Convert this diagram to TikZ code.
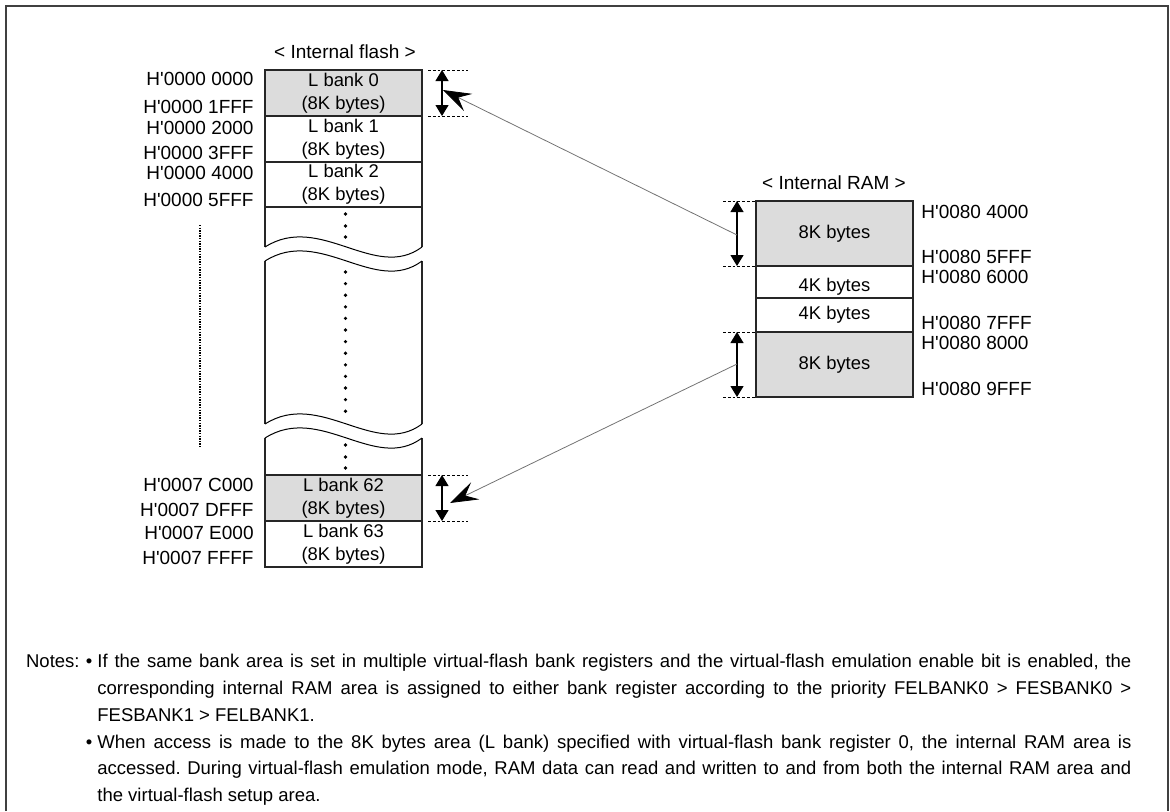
\documentclass[tikz,border=0pt]{standalone}
\usepackage{fontspec}
\setmainfont{Liberation Sans}
\usetikzlibrary{arrows.meta}
\definecolor{bankgray}{RGB}{220,220,220}
\newcommand{\haddr}[1]{H\textquotesingle#1}

\tikzset{
  bank/.style={draw=black!85, line width=0.6pt, minimum width=78.5pt, inner sep=0pt,
    align=center, font=\fontsize{9.2}{11.5}\selectfont},
  addr/.style={inner sep=0pt, font=\fontsize{9.5}{11}\selectfont},
  dim/.style={line width=0.6pt, {Triangle[length=5.5pt,width=6.5pt]}-{Triangle[length=5.5pt,width=6.5pt]}},
  guide/.style={line width=0.4pt, dash pattern=on 1.4pt off 1pt},
  colside/.style={draw=black!85, line width=0.6pt},
  link/.style={draw=black!55, line width=0.4pt, -{Stealth[length=14pt,width=9.5pt,inset=5.5pt,black]}},
  notetext/.style={inner sep=0pt, text width=517pt, align=justify,
    font=\fontsize{9.25}{13.4}\selectfont\frenchspacing},
}

\begin{document}
\begin{tikzpicture}[x=0.5pt,y=-0.5pt]
  \useasboundingbox (0,0) rectangle (1170,811);
  \draw[black!75, line width=0.8pt] (6,811) -- (6,6) -- (1168,6) -- (1168,811);

  % internal flash
  \node[addr] (flashtitle) at (345,52) {< Internal flash >};
  \node[bank, fill=bankgray, minimum height=23pt] (lb0) at (343.5,93) {L bank 0\\(8K bytes)};
  \node[bank, minimum height=23pt] (lb1) at (343.5,139) {L bank 1\\(8K bytes)};
  \node[bank, minimum height=22.5pt] (lb2) at (343.5,184.5) {L bank 2\\(8K bytes)};
  \node[bank, fill=bankgray, minimum height=23pt] (lb62) at (343.5,498) {L bank 62\\(8K bytes)};
  \node[bank, minimum height=23pt] (lb63) at (343.5,544) {L bank 63\\(8K bytes)};

  \draw[colside] (265,207) -- (265,247) (422,207) -- (422,247);
  \draw[colside] (265,261) -- (265,424) (422,261) -- (422,424);
  \draw[colside] (265,438) -- (265,475) (422,438) -- (422,475);
  \draw[line width=0.5pt] (265,247) .. controls (320,212) and (375,282) .. (422,247);
  \draw[line width=0.5pt] (265,261) .. controls (320,226) and (375,296) .. (422,261);
  \draw[line width=0.5pt] (265,424) .. controls (320,389) and (375,459) .. (422,424);
  \draw[line width=0.5pt] (265,438) .. controls (320,403) and (375,473) .. (422,438);
  \foreach \y in {214,226,237,445,457,468}
    \fill (345.5,\y) circle (0.9pt);
  \foreach \i in {0,...,12}
    \fill (345.5,272+11.6*\i) circle (0.9pt);
  \draw[line width=0.7pt, dash pattern=on 0.7pt off 0.6pt] (200,225) -- (200,447);

  \node[addr, anchor=east] (a0s) at (254,79) {\haddr{0000 0000}};
  \node[addr, anchor=east] (a0e) at (254,107) {\haddr{0000 1FFF}};
  \node[addr, anchor=east] (a1s) at (254,128) {\haddr{0000 2000}};
  \node[addr, anchor=east] (a1e) at (254,153) {\haddr{0000 3FFF}};
  \node[addr, anchor=east] (a2s) at (254,173) {\haddr{0000 4000}};
  \node[addr, anchor=east] (a2e) at (254,200) {\haddr{0000 5FFF}};
  \node[addr, anchor=east] (a62s) at (254,485) {\haddr{0007 C000}};
  \node[addr, anchor=east] (a62e) at (254,510) {\haddr{0007 DFFF}};
  \node[addr, anchor=east] (a63s) at (254,533) {\haddr{0007 E000}};
  \node[addr, anchor=east] (a63e) at (254,558) {\haddr{0007 FFFF}};

  \draw[guide] (428,70) -- (468,70) (428,116) -- (468,116);
  \draw[dim] (442,70) -- (442,116);
  \draw[guide] (428,475) -- (468,475) (428,521) -- (468,521);
  \draw[dim] (442,475) -- (442,521);

  % internal RAM
  \node[addr] (ramtitle) at (834,183) {< Internal RAM >};
  \node[bank, fill=bankgray, minimum height=32.5pt] (ram0) at (834.5,233.5) {8K bytes};
  \node[bank, minimum height=16pt, text height=11.5pt] (ram1) at (834.5,282) {4K bytes};
  \node[bank, minimum height=17pt] (ram2) at (834.5,315) {4K bytes};
  \node[bank, fill=bankgray, minimum height=32.5pt] (ram3) at (834.5,364.5) {8K bytes};

  \node[addr, anchor=west] (r0s) at (921,212) {\haddr{0080 4000}};
  \node[addr, anchor=west] (r0e) at (921,257) {\haddr{0080 5FFF}};
  \node[addr, anchor=west] (r1s) at (921,277) {\haddr{0080 6000}};
  \node[addr, anchor=west] (r2e) at (921,323) {\haddr{0080 7FFF}};
  \node[addr, anchor=west] (r3s) at (921,343) {\haddr{0080 8000}};
  \node[addr, anchor=west] (r3e) at (921,389) {\haddr{0080 9FFF}};

  \draw[guide] (723,201) -- (756,201) (723,266) -- (756,266);
  \draw[dim] (737,201) -- (737,266);
  \draw[guide] (723,332) -- (756,332) (723,397) -- (756,397);
  \draw[dim] (737,332) -- (737,397);

  % assignment
  \coordinate (ramtop) at (737,235);
  \coordinate (ramlow) at (737,364);
  \coordinate (banktop) at (443,90);
  \coordinate (banklow) at (450,503);
  \draw[link] (ramtop) -- (banktop);
  \draw[link] (ramlow) -- (banklow);

  % notes
  \node[addr, anchor=base east, font=\fontsize{9.25}{13.4}\selectfont] (notes) at (80,667.5) {Notes:};
  \node[notetext, anchor=base west] (note1) at (97,667.5) {\llap{\textbullet\ }If the same bank area is set in multiple virtual-flash bank registers and the virtual-flash emulation enable bit is enabled, the\linebreak
    corresponding internal RAM area is assigned to either bank register according to the priority FELBANK0 > FESBANK0 >\linebreak
    FESBANK1 > FELBANK1.};
  \node[notetext, anchor=base west] (note2) at (97,748) {\llap{\textbullet\ }When access is made to the 8K bytes area (L bank) specified with virtual-flash bank register 0, the internal RAM area is\linebreak
    accessed. During virtual-flash emulation mode, RAM data can read and written to and from both the internal RAM area and\linebreak
    the virtual-flash setup area.};
\end{tikzpicture}
\end{document}
